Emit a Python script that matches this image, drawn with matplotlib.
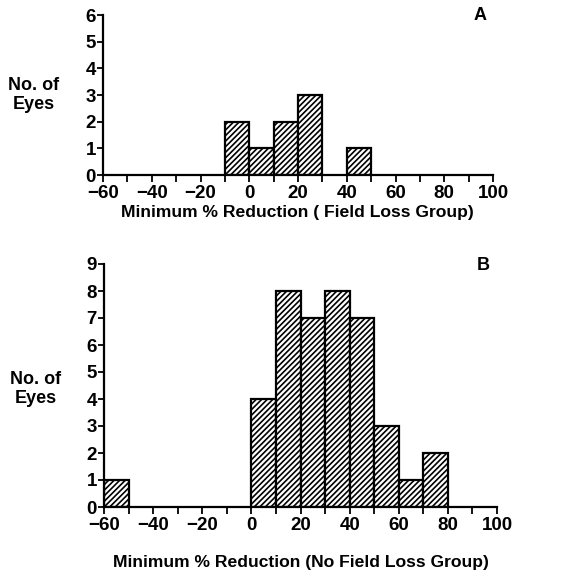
import matplotlib
matplotlib.use("Agg")
import matplotlib.pyplot as plt
import numpy as np

plt.rcParams['font.family'] = ['Liberation Sans', 'DejaVu Sans']
plt.rcParams['font.weight'] = 'bold'
plt.rcParams['hatch.linewidth'] = 1.2

bin_edges = list(range(-60, 101, 10))
counts_a = [0, 0, 0, 0, 0, 2, 1, 2, 3, 0, 1, 0, 0, 0, 0, 0]
counts_b = [1, 0, 0, 0, 0, 0, 4, 8, 7, 8, 7, 3, 1, 2, 0, 0]
xticks = [-60, -40, -20, 0, 20, 40, 60, 80, 100]
xlabel_a = "Minimum % Reduction ( Field Loss Group)"
xlabel_b = "Minimum % Reduction (No Field Loss Group)"
ylabel = "No. of\nEyes"

W, H = 575, 573
fig = plt.figure(figsize=(W / 100, H / 100), dpi=100)

def px_axes(l, t, r, b):
    return fig.add_axes([l / W, 1 - b / H, (r - l) / W, (b - t) / H])

def draw(ax, counts, ymax):
    left = np.array(bin_edges[:-1])
    c = np.array(counts)
    m = c > 0
    ax.bar(left[m], c[m], width=10, align='edge', facecolor='white',
           edgecolor='black', hatch='//////', linewidth=1.6)
    ax.set_xlim(-60, 100)
    ax.set_ylim(0, ymax)
    ax.spines['top'].set_visible(False)
    ax.spines['right'].set_visible(False)
    for s in ('left', 'bottom'):
        ax.spines[s].set_linewidth(1.6)
    ax.set_xticks(xticks)
    ax.set_xticks(bin_edges, minor=True)
    ax.set_xticklabels([str(v).replace('-', '\u2212') for v in xticks])
    ax.set_yticks(range(0, ymax + 1))
    ax.tick_params(axis='both', which='both', direction='out', width=1.3,
                   labelsize=13.5, pad=2)
    ax.tick_params(axis='x', which='both', length=5)
    ax.tick_params(axis='y', length=4, pad=1)
    for lab in ax.get_xticklabels() + ax.get_yticklabels():
        lab.set_fontweight('bold')
    ax.patch.set_alpha(0)

ax_a = px_axes(103, 15, 493, 175)
draw(ax_a, counts_a, 6)
ax_b = px_axes(104, 264, 497, 507)
draw(ax_b, counts_b, 9)

fig.text(480 / W, 1 - 16 / H, 'A', ha='center', va='center', fontsize=13, fontweight='bold')
fig.text(483 / W, 1 - 266 / H, 'B', ha='center', va='center', fontsize=13, fontweight='bold')
fig.text(34 / W, 1 - 95 / H, ylabel, ha='center', va='center', fontsize=13,
         fontweight='bold', multialignment='center', linespacing=1.15)
fig.text(36 / W, 1 - 389 / H, ylabel, ha='center', va='center', fontsize=13,
         fontweight='bold', multialignment='center', linespacing=1.15)
fig.text(297 / W, 1 - 213 / H, xlabel_a, ha='center', va='center', fontsize=12.6, fontweight='bold')
fig.text(301 / W, 1 - 562 / H, xlabel_b, ha='center', va='center', fontsize=12.6, fontweight='bold')

fig.savefig('out.png', dpi=100)
